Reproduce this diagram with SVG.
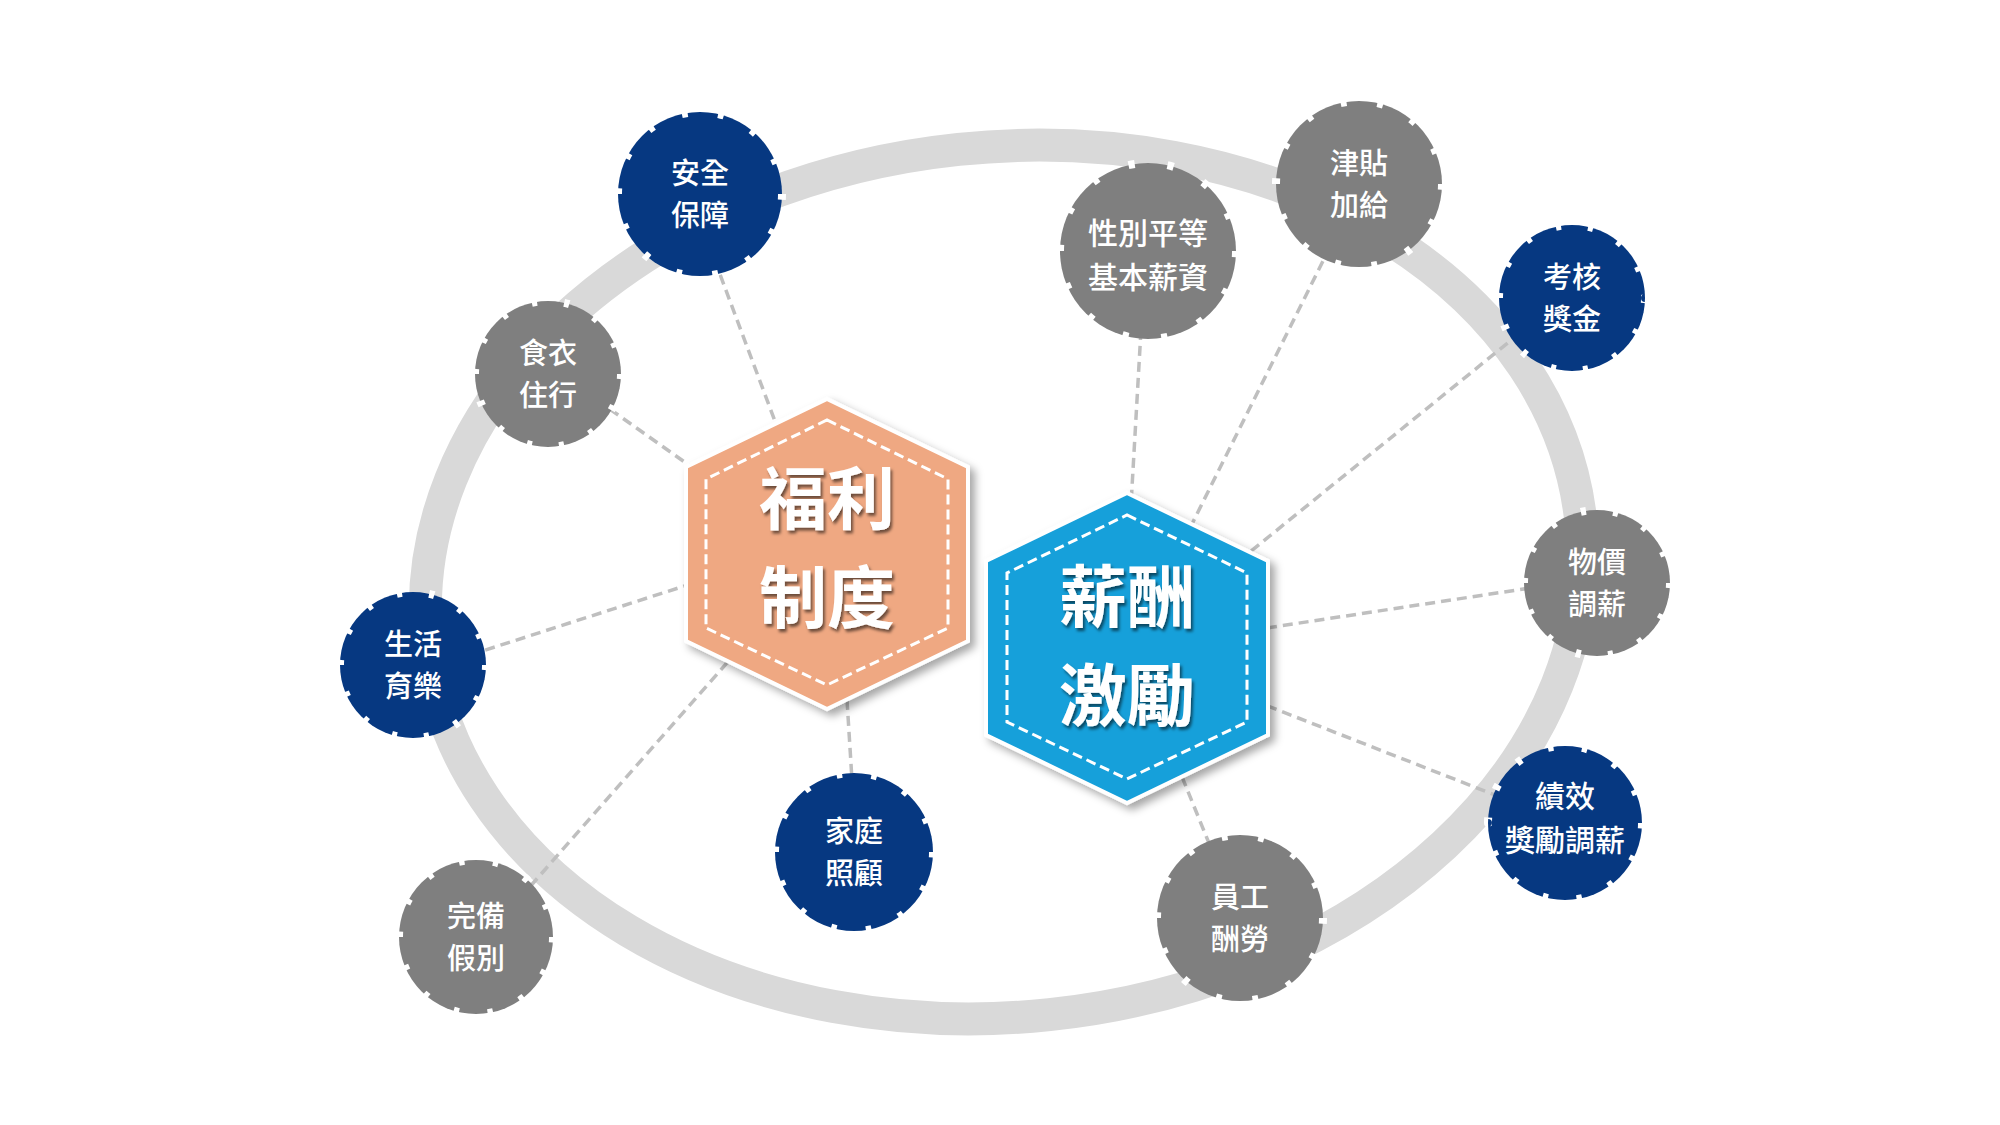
<svg xmlns="http://www.w3.org/2000/svg" width="2000" height="1125" viewBox="0 0 2000 1125">
  <defs>
    <filter id="hexShadow" x="-20%" y="-20%" width="140%" height="140%">
      <feDropShadow dx="5" dy="5" stdDeviation="4" flood-color="#000" flood-opacity="0.35"/>
    </filter>
    <filter id="txtShadow" x="-20%" y="-20%" width="140%" height="140%">
      <feDropShadow dx="2" dy="3" stdDeviation="1.5" flood-color="#000" flood-opacity="0.55"/>
    </filter>
  </defs>
  <style>
    .ring { fill: none; stroke: #D9D9D9; stroke-width: 33; }
    .conn { stroke: #BFBFBF; stroke-width: 3.5; stroke-dasharray: 10 6; fill: none; }
    .navy { fill: #063881; }
    .gray { fill: #7F7F7F; }
    .notch { fill: none; stroke: #FFFFFF; stroke-width: 8; stroke-dasharray: 1.6 8.4; }
    .lbl { font-family: "Noto Sans CJK TC", "Noto Sans CJK SC", sans-serif; font-size: 29px; fill: #FFFFFF; text-anchor: middle; font-weight: 500; }
    .lbl4 { font-size: 30px; }
    .hexOuter { stroke: #FFFFFF; stroke-width: 4; stroke-linejoin: miter; }
    .hexInner { fill: none; stroke: #FFFFFF; stroke-width: 3; stroke-dasharray: 10 5; }
    .big { font-family: "Noto Sans CJK TC", "Noto Sans CJK SC", sans-serif; font-size: 68px; font-weight: 700; fill: #FFFFFF; text-anchor: middle; }
  </style>
  <rect width="2000" height="1125" fill="#FFFFFF"/>

  <ellipse class="ring" cx="1004" cy="582" rx="580" ry="435" transform="rotate(-6 1004 582)"/>

  <g id="connectors">
    <line class="conn" x1="709" y1="245" x2="782" y2="440"/>
    <line class="conn" x1="597" y1="400" x2="700" y2="473"/>
    <line class="conn" x1="470" y1="655" x2="700" y2="581"/>
    <line class="conn" x1="520" y1="898" x2="740" y2="648"/>
    <line class="conn" x1="847" y1="700" x2="852" y2="780"/>
    <line class="conn" x1="1141" y1="330" x2="1131" y2="505"/>
    <line class="conn" x1="1330" y1="247" x2="1188" y2="532"/>
    <line class="conn" x1="1520" y1="333" x2="1245" y2="556"/>
    <line class="conn" x1="1530" y1="588" x2="1260" y2="629"/>
    <line class="conn" x1="1500" y1="797" x2="1260" y2="703"/>
    <line class="conn" x1="1176" y1="762" x2="1215" y2="858"/>
  </g>

  <g id="hex-fuli">
    <polygon class="hexOuter" fill="#EFA882" filter="url(#hexShadow)" points="827,399 968,467 968,641 827,709 686,641 686,467"/>
    <polygon class="hexInner" points="827,420 948,479 948,628 827,685 706,628 706,479"/>
    <text class="big" filter="url(#txtShadow)"><tspan x="827" y="524">福利</tspan><tspan x="827" y="623">制度</tspan></text>
  </g>

  <g id="hex-xinchou">
    <polygon class="hexOuter" fill="#18A0DA" filter="url(#hexShadow)" points="1127,493 1268,561 1268,735 1127,803 986,735 986,561"/>
    <polygon class="hexInner" points="1127,515 1247,573 1247,722 1127,779 1007,722 1007,573"/>
    <text class="big" filter="url(#txtShadow)"><tspan x="1127" y="622">薪酬</tspan><tspan x="1127" y="721">激勵</tspan></text>
  </g>

  <g id="n-anquan">
    <circle class="navy" cx="700" cy="194" r="82"/>
    <circle class="notch" cx="700" cy="194" r="82" pathLength="140"/>
    <text class="lbl"><tspan x="700" y="184">安全</tspan><tspan x="700" y="226">保障</tspan></text>
  </g>
  <g id="n-shiyi">
    <circle class="gray" cx="548" cy="374" r="73"/>
    <circle class="notch" cx="548" cy="374" r="73" pathLength="140"/>
    <text class="lbl"><tspan x="548" y="364">食衣</tspan><tspan x="548" y="406">住行</tspan></text>
  </g>
  <g id="n-shenghuo">
    <circle class="navy" cx="413" cy="665" r="73"/>
    <circle class="notch" cx="413" cy="665" r="73" pathLength="140"/>
    <text class="lbl"><tspan x="413" y="655">生活</tspan><tspan x="413" y="697">育樂</tspan></text>
  </g>
  <g id="n-wanbei">
    <circle class="gray" cx="476" cy="937" r="77"/>
    <circle class="notch" cx="476" cy="937" r="77" pathLength="140"/>
    <text class="lbl"><tspan x="476" y="927">完備</tspan><tspan x="476" y="969">假別</tspan></text>
  </g>
  <g id="n-jiating">
    <circle class="navy" cx="854" cy="852" r="79"/>
    <circle class="notch" cx="854" cy="852" r="79" pathLength="140"/>
    <text class="lbl"><tspan x="854" y="842">家庭</tspan><tspan x="854" y="884">照顧</tspan></text>
  </g>
  <g id="n-yuangong">
    <circle class="gray" cx="1240" cy="918" r="83"/>
    <circle class="notch" cx="1240" cy="918" r="83" pathLength="140"/>
    <text class="lbl"><tspan x="1240" y="908">員工</tspan><tspan x="1240" y="950">酬勞</tspan></text>
  </g>
  <g id="n-jixiao">
    <circle class="navy" cx="1565" cy="823" r="77"/>
    <circle class="notch" cx="1565" cy="823" r="77" pathLength="140"/>
    <text class="lbl lbl4"><tspan x="1565" y="807">績效</tspan><tspan x="1565" y="851">獎勵調薪</tspan></text>
  </g>
  <g id="n-wujia">
    <circle class="gray" cx="1597" cy="583" r="73"/>
    <circle class="notch" cx="1597" cy="583" r="73" pathLength="140"/>
    <text class="lbl"><tspan x="1597" y="573">物價</tspan><tspan x="1597" y="615">調薪</tspan></text>
  </g>
  <g id="n-kaohe">
    <circle class="navy" cx="1572" cy="298" r="73"/>
    <circle class="notch" cx="1572" cy="298" r="73" pathLength="140"/>
    <text class="lbl"><tspan x="1572" y="288">考核</tspan><tspan x="1572" y="330">獎金</tspan></text>
  </g>
  <g id="n-jintie">
    <circle class="gray" cx="1359" cy="184" r="83"/>
    <circle class="notch" cx="1359" cy="184" r="83" pathLength="140"/>
    <text class="lbl"><tspan x="1359" y="174">津貼</tspan><tspan x="1359" y="216">加給</tspan></text>
  </g>
  <g id="n-xingbie">
    <circle class="gray" cx="1148" cy="251" r="88"/>
    <circle class="notch" cx="1148" cy="251" r="88" pathLength="140"/>
    <text class="lbl lbl4"><tspan x="1148" y="244">性別平等</tspan><tspan x="1148" y="288">基本薪資</tspan></text>
  </g>
</svg>
